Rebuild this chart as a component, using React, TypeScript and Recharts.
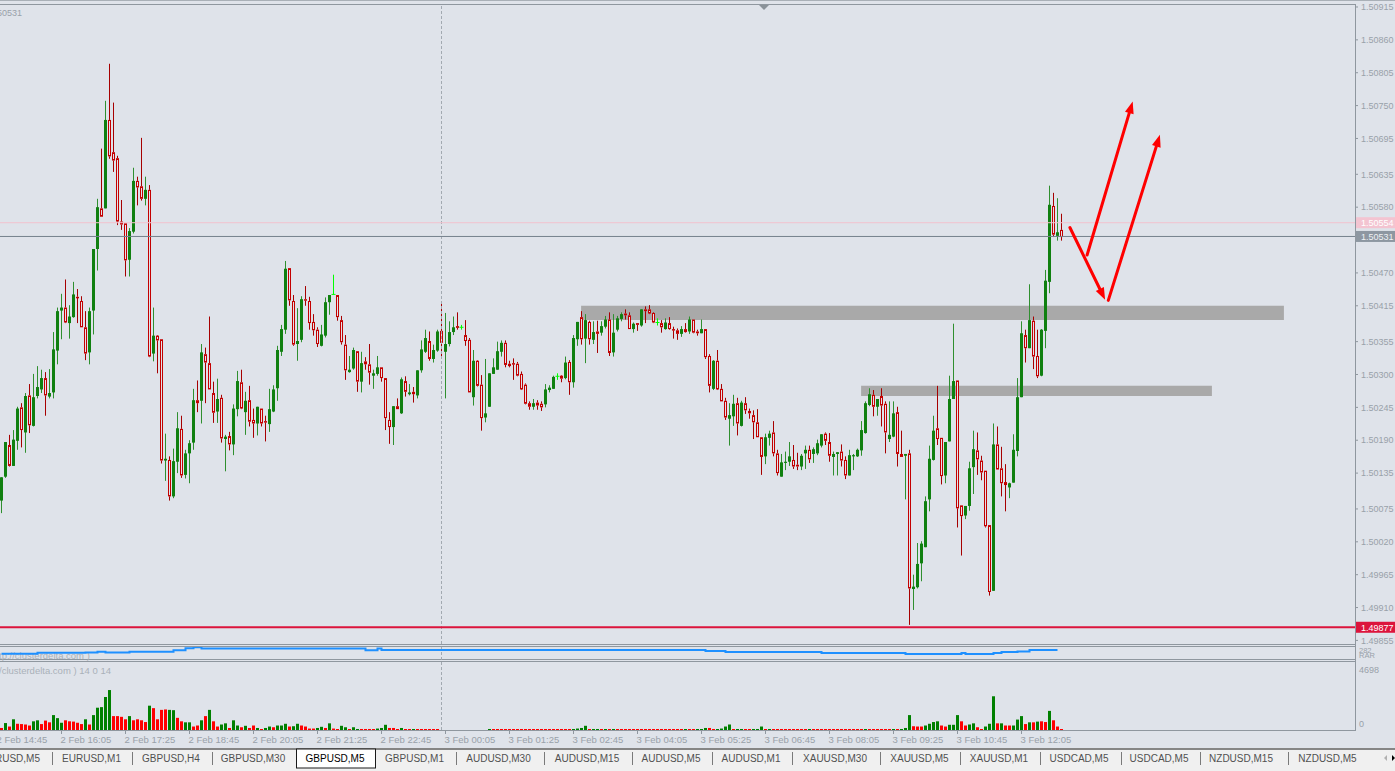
import React from 'react';
import {
  ComposedChart,
  Bar,
  Line,
  XAxis,
  YAxis,
  ReferenceLine,
  ReferenceArea,
} from 'recharts';

// GBPUSD M5 candles, one every 5 minutes from 2 Feb 14:50
const OPEN = [
  1.50089,1.50129,1.50182,1.50147,1.50189,1.50245,1.50203,1.50265,1.50214,1.50264,
  1.50275,1.50294,1.50263,1.50270,1.50340,1.50407,1.50412,1.50386,1.50396,1.50430,
  1.50423,1.50379,1.50337,1.50407,1.50510,1.50578,1.50578,1.50726,1.50672,1.50662,
  1.50556,1.50553,1.50492,1.50539,1.50624,1.50615,1.50594,1.50609,1.50335,1.50365,
  1.50359,1.50156,1.50157,1.50096,1.50154,1.50209,1.50132,1.50168,1.50186,1.50257,
  1.50256,1.50334,1.50319,1.50269,1.50238,1.50261,1.50192,1.50197,1.50183,1.50242,
  1.50287,1.50237,1.50257,1.50224,1.50218,1.50243,1.50222,1.50217,1.50238,1.50277,
  1.50338,1.50375,1.50478,1.50423,1.50351,1.50358,1.50426,1.50423,1.50388,1.50375,
  1.50348,1.50365,1.50421,1.50434,1.50433,1.50391,1.50350,1.50304,1.50310,1.50339,
  1.50288,1.50322,1.50317,1.50298,1.50301,1.50312,1.50294,1.50224,1.50212,1.50247,
  1.50235,1.50289,1.50267,1.50271,1.50265,1.50307,1.50338,1.50356,1.50326,1.50340,
  1.50373,1.50338,1.50351,1.50371,1.50381,1.50379,1.50366,1.50358,1.50262,1.50323,
  1.50283,1.50228,1.50246,1.50301,1.50308,1.50338,1.50353,1.50318,1.50319,1.50318,
  1.50301,1.50283,1.50252,1.50246,1.50253,1.50251,1.50250,1.50274,1.50276,1.50297,
  1.50298,1.50294,1.50321,1.50287,1.50359,1.50396,1.50360,1.50388,1.50358,1.50372,
  1.50370,1.50380,1.50392,1.50337,1.50375,1.50393,1.50402,1.50399,1.50376,1.50386,
  1.50382,1.50409,1.50409,1.50403,1.50387,1.50386,1.50376,1.50386,1.50376,1.50374,
  1.50368,1.50376,1.50372,1.50392,1.50372,1.50369,1.50376,1.50331,1.50276,1.50323,
  1.50276,1.50256,1.50226,1.50230,1.50252,1.50214,1.50252,1.50239,1.50232,1.50220,
  1.50195,1.50163,1.50194,1.50203,1.50168,1.50129,1.50152,1.50154,1.50157,1.50149,
  1.50146,1.50168,1.50174,1.50167,1.50168,1.50181,1.50201,1.50187,1.50162,1.50167,
  1.50171,1.50157,1.50131,1.50163,1.50163,1.50173,1.50202,1.50249,1.50266,1.50246,
  1.50264,1.50251,1.50192,1.50196,1.50237,1.50167,1.50164,1.50168,1.49941,1.49944,
  1.49984,1.50011,1.50091,1.50157,1.50210,1.50194,1.50131,1.50188,1.50259,1.50290,
  1.50081,1.50064,1.50080,1.50145,1.50173,1.50156,1.50139,1.50048,1.49938,1.50183,
  1.50143,1.50120,1.50111,1.50119,1.50172,1.50262,1.50366,1.50344,1.50390,1.50331,
  1.50298,1.50373,1.50455,1.50582,1.50532,1.50542,
];

const HIGH = [
  1.50128,1.50187,1.50199,1.50207,1.50246,1.50252,1.50269,1.50284,1.50301,1.50314,
  1.50308,1.50304,1.50309,1.50371,1.50412,1.50435,1.50459,1.50416,1.50455,1.50443,
  1.50431,1.50406,1.50412,1.50510,1.50594,1.50678,1.50758,1.50820,1.50755,1.50666,
  1.50592,1.50553,1.50545,1.50646,1.50631,1.50696,1.50631,1.50617,1.50412,1.50366,
  1.50359,1.50201,1.50163,1.50176,1.50237,1.50231,1.50174,1.50190,1.50276,1.50290,
  1.50351,1.50345,1.50397,1.50288,1.50293,1.50266,1.50199,1.50204,1.50250,1.50306,
  1.50308,1.50271,1.50281,1.50243,1.50246,1.50243,1.50231,1.50276,1.50282,1.50348,
  1.50383,1.50490,1.50478,1.50433,1.50411,1.50431,1.50448,1.50430,1.50401,1.50379,
  1.50383,1.50429,1.50433,1.50467,1.50433,1.50398,1.50366,1.50331,1.50345,1.50339,
  1.50338,1.50329,1.50351,1.50308,1.50331,1.50312,1.50294,1.50237,1.50247,1.50260,
  1.50295,1.50297,1.50284,1.50279,1.50307,1.50357,1.50375,1.50372,1.50350,1.50375,
  1.50422,1.50403,1.50389,1.50397,1.50404,1.50383,1.50391,1.50361,1.50341,1.50324,
  1.50299,1.50326,1.50302,1.50327,1.50355,1.50357,1.50357,1.50323,1.50327,1.50321,
  1.50305,1.50285,1.50255,1.50259,1.50257,1.50255,1.50284,1.50282,1.50298,1.50302,
  1.50299,1.50330,1.50324,1.50366,1.50388,1.50406,1.50401,1.50390,1.50389,1.50390,
  1.50389,1.50398,1.50404,1.50401,1.50398,1.50404,1.50409,1.50404,1.50387,1.50386,
  1.50409,1.50414,1.50416,1.50404,1.50394,1.50391,1.50394,1.50396,1.50380,1.50377,
  1.50381,1.50386,1.50397,1.50392,1.50375,1.50392,1.50376,1.50334,1.50324,1.50341,
  1.50284,1.50261,1.50252,1.50266,1.50261,1.50256,1.50262,1.50243,1.50240,1.50242,
  1.50195,1.50201,1.50206,1.50222,1.50174,1.50167,1.50171,1.50187,1.50182,1.50169,
  1.50167,1.50181,1.50181,1.50178,1.50191,1.50200,1.50203,1.50202,1.50171,1.50170,
  1.50183,1.50163,1.50174,1.50167,1.50176,1.50222,1.50255,1.50277,1.50274,1.50259,
  1.50277,1.50255,1.50255,1.50255,1.50246,1.50206,1.50167,1.50174,1.49965,1.50018,
  1.50021,1.50096,1.50181,1.50231,1.50281,1.50194,1.50187,1.50298,1.50385,1.50290,
  1.50081,1.50080,1.50154,1.50206,1.50203,1.50164,1.50139,1.50048,1.50218,1.50213,
  1.50179,1.50150,1.50119,1.50200,1.50294,1.50389,1.50375,1.50451,1.50397,1.50375,
  1.50376,1.50475,1.50616,1.50604,1.50595,1.50569,
];

const LOW = [
  1.50068,1.50127,1.50146,1.50147,1.50174,1.50178,1.50169,1.50202,1.50213,1.50260,
  1.50269,1.50231,1.50260,1.50260,1.50317,1.50359,1.50386,1.50360,1.50395,1.50386,
  1.50379,1.50324,1.50317,1.50367,1.50474,1.50564,1.50578,1.50661,1.50639,1.50550,
  1.50542,1.50464,1.50464,1.50536,1.50583,1.50591,1.50583,1.50329,1.50322,1.50302,
  1.50151,1.50122,1.50089,1.50093,1.50135,1.50127,1.50126,1.50118,1.50174,1.50237,
  1.50218,1.50252,1.50275,1.50219,1.50219,1.50186,1.50138,1.50173,1.50165,1.50230,
  1.50242,1.50199,1.50213,1.50194,1.50198,1.50213,1.50188,1.50204,1.50237,1.50256,
  1.50331,1.50368,1.50415,1.50348,1.50323,1.50354,1.50415,1.50375,1.50365,1.50346,
  1.50347,1.50362,1.50400,1.50433,1.50390,1.50350,1.50291,1.50303,1.50308,1.50271,
  1.50270,1.50308,1.50283,1.50276,1.50298,1.50288,1.50207,1.50184,1.50182,1.50242,
  1.50234,1.50263,1.50265,1.50253,1.50260,1.50303,1.50336,1.50323,1.50320,1.50338,
  1.50330,1.50260,1.50347,1.50366,1.50375,1.50375,1.50348,1.50270,1.50248,1.50280,
  1.50206,1.50220,1.50246,1.50301,1.50308,1.50330,1.50312,1.50312,1.50291,1.50297,
  1.50274,1.50250,1.50241,1.50241,1.50241,1.50239,1.50245,1.50270,1.50276,1.50291,
  1.50287,1.50292,1.50266,1.50278,1.50348,1.50350,1.50319,1.50350,1.50351,1.50336,
  1.50365,1.50377,1.50331,1.50330,1.50372,1.50389,1.50392,1.50376,1.50370,1.50373,
  1.50380,1.50386,1.50401,1.50386,1.50382,1.50370,1.50375,1.50375,1.50360,1.50358,
  1.50363,1.50370,1.50368,1.50369,1.50365,1.50369,1.50326,1.50270,1.50274,1.50274,
  1.50255,1.50224,1.50181,1.50214,1.50198,1.50213,1.50234,1.50226,1.50192,1.50195,
  1.50132,1.50150,1.50181,1.50163,1.50131,1.50129,1.50140,1.50147,1.50142,1.50140,
  1.50140,1.50142,1.50152,1.50152,1.50165,1.50178,1.50182,1.50154,1.50131,1.50131,
  1.50146,1.50125,1.50131,1.50140,1.50162,1.50164,1.50201,1.50247,1.50230,1.50231,
  1.50213,1.50168,1.50187,1.50195,1.50146,1.50162,1.50091,1.49881,1.49906,1.49942,
  1.49954,1.50011,1.50071,1.50156,1.50182,1.50116,1.50118,1.50188,1.50259,1.50044,
  1.49997,1.50058,1.50072,1.50100,1.50132,1.50123,1.50044,1.49930,1.49938,1.50141,
  1.50096,1.50071,1.50093,1.50119,1.50163,1.50262,1.50320,1.50344,1.50309,1.50294,
  1.50297,1.50344,1.50436,1.50530,1.50524,1.50524,
];

const CLOSE = [
  1.50128,1.50187,1.50147,1.50191,1.50243,1.50207,1.50264,1.50215,1.50262,1.50279,
  1.50294,1.50265,1.50269,1.50342,1.50406,1.50412,1.50387,1.50397,1.50434,1.50428,
  1.50379,1.50335,1.50406,1.50510,1.50580,1.50564,1.50726,1.50665,1.50658,1.50556,
  1.50551,1.50491,1.50540,1.50624,1.50613,1.50594,1.50609,1.50330,1.50365,1.50357,
  1.50156,1.50159,1.50096,1.50155,1.50210,1.50131,1.50168,1.50185,1.50257,1.50252,
  1.50337,1.50320,1.50275,1.50236,1.50259,1.50193,1.50196,1.50183,1.50243,1.50289,
  1.50243,1.50256,1.50221,1.50218,1.50246,1.50218,1.50220,1.50242,1.50275,1.50341,
  1.50376,1.50477,1.50424,1.50350,1.50356,1.50426,1.50424,1.50386,1.50374,1.50351,
  1.50367,1.50421,1.50433,1.50434,1.50396,1.50354,1.50307,1.50308,1.50341,1.50288,
  1.50319,1.50317,1.50303,1.50302,1.50312,1.50294,1.50227,1.50212,1.50247,1.50242,
  1.50292,1.50271,1.50270,1.50267,1.50307,1.50342,1.50361,1.50326,1.50341,1.50372,
  1.50353,1.50351,1.50371,1.50379,1.50378,1.50379,1.50356,1.50270,1.50323,1.50281,
  1.50227,1.50235,1.50302,1.50312,1.50339,1.50353,1.50316,1.50314,1.50317,1.50298,
  1.50275,1.50251,1.50246,1.50252,1.50248,1.50245,1.50275,1.50278,1.50296,1.50297,
  1.50293,1.50320,1.50287,1.50361,1.50388,1.50359,1.50391,1.50359,1.50371,1.50368,
  1.50381,1.50392,1.50336,1.50370,1.50394,1.50401,1.50399,1.50376,1.50385,1.50383,
  1.50409,1.50406,1.50402,1.50387,1.50387,1.50379,1.50387,1.50376,1.50374,1.50368,
  1.50376,1.50371,1.50392,1.50370,1.50369,1.50376,1.50329,1.50281,1.50323,1.50275,
  1.50255,1.50228,1.50232,1.50251,1.50218,1.50253,1.50240,1.50235,1.50220,1.50195,
  1.50162,1.50195,1.50201,1.50168,1.50135,1.50153,1.50154,1.50163,1.50146,1.50146,
  1.50164,1.50174,1.50158,1.50175,1.50185,1.50200,1.50189,1.50164,1.50167,1.50170,
  1.50156,1.50131,1.50165,1.50165,1.50174,1.50207,1.50252,1.50267,1.50246,1.50259,
  1.50248,1.50203,1.50199,1.50235,1.50167,1.50162,1.50167,1.49942,1.49945,1.49983,
  1.50017,1.50088,1.50159,1.50206,1.50192,1.50130,1.50187,1.50259,1.50289,1.50076,
  1.50063,1.50080,1.50143,1.50175,1.50158,1.50136,1.50046,1.49936,1.50183,1.50141,
  1.50118,1.50115,1.50118,1.50174,1.50262,1.50369,1.50344,1.50391,1.50330,1.50297,
  1.50375,1.50457,1.50584,1.50534,1.50538,1.50530,
];

// clusterdelta volume per candle (null = no data), 1 = green bar, 0 = red bar
const VOLUME = [
  140,480,240,740,430,410,380,310,600,670,
  410,650,530,1030,820,500,670,600,580,500,
  410,740,380,1030,1540,1580,2280,2760,960,960,
  910,740,960,670,740,670,550,1680,1510,740,
  1390,1420,1390,1370,840,600,530,530,240,310,
  670,960,1390,600,240,380,460,140,670,310,
  190,290,140,310,140,50,140,240,190,310,
  310,430,240,260,430,310,240,100,100,140,
  220,140,460,100,50,290,190,50,190,70,
  70,70,70,50,100,140,360,140,140,50,
  140,30,30,70,30,30,30,30,30,30,
  null,null,null,null,null,null,null,null,null,null,
  null,null,70,30,30,30,30,30,30,30,
  30,30,30,30,30,30,30,30,30,30,
  30,30,30,70,100,140,290,30,70,70,
  30,50,30,70,30,30,30,30,30,30,
  30,30,30,30,30,30,30,30,30,30,
  30,50,50,30,50,50,140,140,70,30,
  100,240,380,30,70,70,30,30,70,70,
  240,50,70,30,30,30,30,30,30,30,
  30,30,50,30,30,30,30,30,30,30,
  30,30,30,30,30,30,50,30,30,30,
  30,30,30,50,30,70,140,1030,260,240,
  240,310,430,550,600,310,240,360,360,1030,
  600,310,380,460,190,70,240,430,2330,460,
  460,310,310,310,720,960,410,530,530,580,
  600,550,1320,670,240,30,
];

const VOLUME_UP = [
  0,1,0,1,0,0,0,0,1,1, 0,0,0,1,1,1,0,0,0,0, 0,1,0,1,1,1,1,1,0,0,
  0,0,1,0,0,0,0,1,0,0, 0,0,1,1,0,0,1,1,0,0, 1,0,1,0,0,1,1,0,1,1,
  0,1,0,0,1,0,1,1,0,1, 1,1,0,1,1,0,0,0,0,1, 1,0,1,0,0,1,1,0,1,1,
  0,0,0,0,1,1,1,0,0,0, 1,0,0,1,0,0,0,0,0,0, 0,0,0,0,0,0,0,0,0,0,
  0,0,1,0,0,0,0,0,0,0, 0,0,0,0,0,0,0,0,0,0, 0,0,0,1,1,1,1,0,1,1,
  0,1,0,1,0,0,0,0,0,0, 0,0,0,0,0,0,0,0,0,0, 0,1,0,0,1,1,1,0,0,1,
  1,1,1,0,1,1,0,0,1,1, 1,0,1,0,0,0,0,0,0,0, 0,0,1,0,0,0,0,0,0,0,
  0,0,0,0,0,0,1,0,0,0, 0,0,0,1,0,1,1,1,0,0, 0,1,1,1,1,0,0,1,1,1,
  0,0,1,1,0,0,1,1,1,0, 1,0,0,1,1,1,0,1,0,1, 0,0,1,0,0,0,
];

// blue indicator line: candle index where the step starts, and its level
const FLOW_AT = [0, 9, 21, 24, 26, 32, 43, 46, 48, 50, 91, 94, 95, 176, 181, 205, 226, 240, 241, 248, 250, 254, 257, 264];
const FLOW_VALUE = [62, 73, 76, 83, 76, 83, 97, 117, 128, 114, 97, 114, 100, 90, 80, 69, 59, 69, 59, 69, 80, 86, 100, 100];

const TIME_TICKS = [-1, 15, 31, 47, 63, 79, 95, 111, 127, 143, 159, 175, 191, 207, 223, 239, 255];
const TIME_LABELS = [
  '2 Feb 14:45', '2 Feb 16:05', '2 Feb 17:25', '2 Feb 18:45', '2 Feb 20:05', '2 Feb 21:25',
  '2 Feb 22:45', '3 Feb 00:05', '3 Feb 01:25', '3 Feb 02:45', '3 Feb 04:05', '3 Feb 05:25',
  '3 Feb 06:45', '3 Feb 08:05', '3 Feb 09:25', '3 Feb 10:45', '3 Feb 12:05',
];

const PRICE_TICKS = [
  1.50915, 1.5086, 1.50805, 1.5075, 1.50695, 1.50635, 1.5058, 1.5047, 1.50415, 1.50355,
  1.503, 1.50245, 1.5019, 1.50135, 1.50075, 1.5002, 1.49965, 1.4991, 1.49855,
];

const ASK = 1.50554;
const BID = 1.50531;
const LOW_LEVEL = 1.49877;
const DAY_BREAK = 110;
const VOLUME_MAX = 4698;

const ZONES = [
  { from: 144.9, to: 320.6, top: 1.50415, bottom: 1.50391 },
  { from: 214.9, to: 302.6, top: 1.50281, bottom: 1.50264 },
];

const ARROWS = [
  [{ x: 267.1, y: 1.50546 }, { x: 275.9, y: 1.50425 }],
  [{ x: 276.7, y: 1.50424 }, { x: 289.6, y: 1.50701 }],
  [{ x: 271.4, y: 1.505 }, { x: 282.8, y: 1.50757 }],
];

const TABS = [
  { label: 'EURUSD,M5', x: 40, anchor: 'end' },
  { label: 'EURUSD,M1', x: 91.5 },
  { label: 'GBPUSD,H4', x: 171 },
  { label: 'GBPUSD,M30', x: 253 },
  { label: 'GBPUSD,M5', x: 335, active: true },
  { label: 'GBPUSD,M1', x: 414.5 },
  { label: 'AUDUSD,M30', x: 498.5 },
  { label: 'AUDUSD,M15', x: 587 },
  { label: 'AUDUSD,M5', x: 671 },
  { label: 'AUDUSD,M1', x: 751 },
  { label: 'XAUUSD,M30', x: 835 },
  { label: 'XAUUSD,M5', x: 919.5 },
  { label: 'XAUUSD,M1', x: 999 },
  { label: 'USDCAD,M5', x: 1079 },
  { label: 'USDCAD,M5', x: 1159 },
  { label: 'NZDUSD,M15', x: 1241 },
  { label: 'NZDUSD,M5', x: 1327.5 },
];
const TAB_SEPARATORS = [52, 132, 212, 456, 544, 632, 712, 792, 880, 960, 1040, 1121, 1200, 1288];

const BG = '#dfe3ea';
const FRAME = '#8f979f';
const AXIS_TEXT = '#99a1a9';
const FAINT_TEXT = '#aab1b9';
const BULL_BODY = '#108010';
const BULL_WICK = '#2f8f2f';
const BEAR_BODY = '#c40000';
const BEAR_WICK = '#a60000';
const DOJI = '#00ff00';
const FONT = '"Liberation Sans", Arial, sans-serif';

const X_DOMAIN: [number, number] = [-0.375, 338.375];
const PRICE_DOMAIN: [number, number] = [1.49849, 1.5092];

const candles = OPEN.map((o, i) => ({ i, o, h: HIGH[i], l: LOW[i], c: CLOSE[i] }));
const volumes = VOLUME.map((v, i) => ({ i, v, up: VOLUME_UP[i] })).filter((d) => d.v !== null);
const flow = FLOW_AT.map((i, n) => ({ i, v: FLOW_VALUE[n] }));

const renderCandle = (props: any) => {
  const { x, y, width, height, payload } = props;
  if (!payload || !Number.isFinite(y) || !Number.isFinite(height)) return <g />;
  const { o, h, l, c } = payload;
  const unit = h - l > 0 ? height / (h - l) : 0;
  const cx = Math.round(x + width / 2 - 0.5) + 0.5;
  const yo = y + (h - o) * unit;
  const yc = y + (h - c) * unit;
  const top = Math.min(yo, yc);
  const bot = Math.max(yo, yc);
  if (o === c) {
    return (
      <g>
        <line x1={cx} x2={cx} y1={y} y2={y + height} stroke={DOJI} />
        <line x1={cx - 2} x2={cx + 2} y1={yo} y2={yo} stroke={DOJI} />
      </g>
    );
  }
  if (c > o) {
    return (
      <g>
        <line x1={cx} x2={cx} y1={y} y2={y + height} stroke={BULL_WICK} />
        <rect x={cx - 1.5} y={top} width={3} height={Math.max(bot - top, 1)} fill={BULL_BODY} />
      </g>
    );
  }
  return (
    <g>
      <line x1={cx} x2={cx} y1={y} y2={top} stroke={BEAR_WICK} />
      <line x1={cx} x2={cx} y1={bot} y2={y + height} stroke={BEAR_WICK} />
      <rect
        x={cx - 1}
        y={top + 0.5}
        width={2}
        height={Math.max(bot - top - 1, 0.5)}
        fill={BG}
        stroke={BEAR_BODY}
      />
    </g>
  );
};

const renderVolume = (props: any) => {
  const { x, y, width, height, payload } = props;
  if (!payload || !Number.isFinite(y)) return <g />;
  const cx = Math.round(x + width / 2 - 0.5) + 0.5;
  const h = Math.max(height, 1);
  return (
    <rect
      x={cx - 1.5}
      y={y + height - h}
      width={3}
      height={h}
      fill={payload.up ? '#008000' : '#ff0000'}
    />
  );
};

const PriceTick = (props: any) => {
  const { x, y, payload } = props;
  return (
    <g>
      <line x1={x} x2={x + 3} y1={y} y2={y} stroke={FRAME} />
      <text x={x + 6} y={y + 3.2} fontSize={9} fill={AXIS_TEXT} fontFamily={FONT}>
        {Number(payload.value).toFixed(5)}
      </text>
    </g>
  );
};

const VolumeTick = (props: any) => {
  const { x, y, payload } = props;
  const atTop = payload.value > 0;
  return (
    <text x={x + 4} y={atTop ? y + 10.5 : y - 3} fontSize={9} fill={AXIS_TEXT} fontFamily={FONT}>
      {payload.value}
    </text>
  );
};

const TimeTick = (props: any) => {
  const { x, y, payload } = props;
  const label = TIME_LABELS[TIME_TICKS.indexOf(payload.value)];
  return (
    <g>
      <line x1={x} x2={x} y1={y + 1} y2={y + 4} stroke={FRAME} />
      <text x={x - 1} y={y + 12.5} fontSize={9.5} fill={AXIS_TEXT} fontFamily={FONT}>
        {label}
      </text>
    </g>
  );
};

const LevelTag = (props: any) => {
  const { viewBox, text, bg, fg } = props;
  const x = viewBox.x + viewBox.width + 1;
  const y = viewBox.y;
  return (
    <g>
      <rect x={x} y={y - 5.5} width={40} height={11} fill={bg} />
      <text x={x + 5} y={y + 3.3} fontSize={9} fill={fg} fontFamily={FONT}>
        {text}
      </text>
    </g>
  );
};

const renderArrow = (props: any) => {
  const { x1, y1, x2, y2 } = props;
  const len = Math.hypot(x2 - x1, y2 - y1) || 1;
  const ux = (x2 - x1) / len;
  const uy = (y2 - y1) / len;
  const hl = 12;
  const hw = 4.5;
  const bx = x2 - ux * hl;
  const by = y2 - uy * hl;
  return (
    <g>
      <line x1={x1} y1={y1} x2={bx} y2={by} stroke="#ff0000" strokeWidth={3} strokeLinecap="round" />
      <polygon
        points={`${x2},${y2} ${bx - uy * hw},${by + ux * hw} ${bx + uy * hw},${by - ux * hw}`}
        fill="#ff0000"
      />
    </g>
  );
};

const dayBreak = (
  <ReferenceLine x={DAY_BREAK} stroke="#a2a9b1" strokeDasharray="3 2" />
);

export default function App() {
  return (
    <div
      style={{
        position: 'absolute',
        left: 0,
        top: 0,
        width: 1395,
        height: 771,
        background: BG,
        overflow: 'hidden',
        fontFamily: FONT,
      }}
    >
      <svg width={1395} height={771} style={{ position: 'absolute', left: 0, top: 0 }}>
        <line x1={0} x2={1395} y1={0.5} y2={0.5} stroke="#a9b0b7" />
        <line x1={0} x2={1355.5} y1={4.5} y2={4.5} stroke={FRAME} />
        <line x1={1355.5} x2={1355.5} y1={4} y2={731} stroke={FRAME} />
        <line x1={0} x2={1355.5} y1={644.5} y2={644.5} stroke={FRAME} />
        <line x1={0} x2={1355.5} y1={646.5} y2={646.5} stroke={FRAME} />
        <line x1={0} x2={1355.5} y1={659.5} y2={659.5} stroke={FRAME} />
        <line x1={0} x2={1355.5} y1={661.5} y2={661.5} stroke={FRAME} />
        <line x1={0} x2={1355.5} y1={730.5} y2={730.5} stroke={FRAME} />
        <polygon points="759,5 769,5 764,10" fill="#8a9299" />
        <text x={22} y={16} fontSize={9} fill={AXIS_TEXT} textAnchor="end">1.50531</text>
        <text x={-1} y={659} fontSize={9.5} fill={FAINT_TEXT}>tp://clusterdelta.com )</text>
        <text x={-1} y={674} fontSize={9.5} fill={FAINT_TEXT}>/clusterdelta.com ) 14 0 14</text>
        <text x={1359} y={653} fontSize={7.5} fill={AXIS_TEXT}>282</text>
        <text x={1359} y={658} fontSize={7.5} fill={AXIS_TEXT}>RAR</text>
      </svg>

      <div style={{ position: 'absolute', left: 0, top: 0 }}>
        <ComposedChart
          width={1395}
          height={645}
          data={candles}
          margin={{ top: 4, right: 0, bottom: 1, left: 0 }}
        >
          <XAxis type="number" dataKey="i" domain={X_DOMAIN} allowDataOverflow hide />
          <YAxis
            orientation="right"
            width={40}
            type="number"
            domain={PRICE_DOMAIN}
            allowDataOverflow
            ticks={PRICE_TICKS}
            interval={0}
            tick={<PriceTick />}
            tickSize={0}
            tickMargin={0}
            axisLine={false}
            tickLine={false}
          />
          {ZONES.map((z, n) => (
            <ReferenceArea
              key={n}
              x1={z.from}
              x2={z.to}
              y1={z.bottom}
              y2={z.top}
              fill="#a9a9a9"
              fillOpacity={1}
              strokeOpacity={0}
            />
          ))}
          {dayBreak}
          <ReferenceLine
            y={ASK}
            stroke="#f1c3cf"
            label={<LevelTag text={ASK.toFixed(5)} bg="#f3c4d1" fg="#ffffff" />}
          />
          <ReferenceLine
            y={BID}
            stroke="#75818d"
            label={<LevelTag text={BID.toFixed(5)} bg="#8d97a1" fg="#eef1f4" />}
          />
          <ReferenceLine
            y={LOW_LEVEL}
            stroke="#dc143c"
            strokeWidth={2}
            label={<LevelTag text={LOW_LEVEL.toFixed(5)} bg="#dc143c" fg="#ffffff" />}
          />
          <Bar
            dataKey={(d: any) => [d.l, d.h]}
            barSize={4}
            shape={renderCandle}
            isAnimationActive={false}
          />
          {ARROWS.map((seg, n) => (
            <ReferenceLine key={`a${n}`} segment={seg} shape={renderArrow} />
          ))}
        </ComposedChart>
      </div>

      <div style={{ position: 'absolute', left: 0, top: 647 }}>
        <ComposedChart
          width={1395}
          height={13}
          data={flow}
          margin={{ top: 0, right: 40, bottom: 0, left: 0 }}
        >
          <XAxis type="number" dataKey="i" domain={X_DOMAIN} allowDataOverflow hide />
          <YAxis type="number" domain={[0, 130]} hide />
          {dayBreak}
          <Line
            type="stepAfter"
            dataKey="v"
            stroke="#1e90ff"
            strokeWidth={2}
            dot={false}
            isAnimationActive={false}
          />
        </ComposedChart>
      </div>

      <div style={{ position: 'absolute', left: 0, top: 661 }}>
        <ComposedChart
          width={1395}
          height={87}
          data={volumes}
          margin={{ top: 1, right: 0, bottom: 0, left: 0 }}
        >
          <XAxis
            type="number"
            dataKey="i"
            domain={X_DOMAIN}
            allowDataOverflow
            ticks={TIME_TICKS}
            interval={0}
            tick={<TimeTick />}
            height={18}
            tickSize={0}
            tickMargin={0}
            axisLine={false}
            tickLine={false}
          />
          <YAxis
            orientation="right"
            width={40}
            type="number"
            domain={[0, VOLUME_MAX]}
            ticks={[0, VOLUME_MAX]}
            interval={0}
            tick={<VolumeTick />}
            tickSize={0}
            tickMargin={0}
            axisLine={false}
            tickLine={false}
          />
          {dayBreak}
          <Bar dataKey="v" barSize={4} shape={renderVolume} isAnimationActive={false} />
        </ComposedChart>
      </div>

      <svg width={1395} height={23} style={{ position: 'absolute', left: 0, top: 748 }}>
        <rect x={0} y={0} width={1395} height={23} fill="#f0f0f0" />
        <line x1={0} x2={1395} y1={1} y2={1} stroke="#1a1a1a" />
        <rect x={296.5} y={1} width={79} height={19} fill="#ffffff" stroke="#1a1a1a" />
        {TAB_SEPARATORS.map((sx) => (
          <line key={sx} x1={sx + 0.5} x2={sx + 0.5} y1={4} y2={17} stroke="#7a7a7a" />
        ))}
        {TABS.map((t, n) => (
          <text
            key={n}
            x={t.x}
            y={14}
            fontSize={10}
            textAnchor={(t.anchor as any) || 'middle'}
            fill={t.active ? '#000000' : '#505050'}
            fontFamily={FONT}
          >
            {t.label}
          </text>
        ))}
        <polygon points="1387,7 1387,13 1384,10" fill="#b0b0b0" />
        <polygon points="1392,7 1392,13 1395,10" fill="#000000" />
      </svg>
    </div>
  );
}
